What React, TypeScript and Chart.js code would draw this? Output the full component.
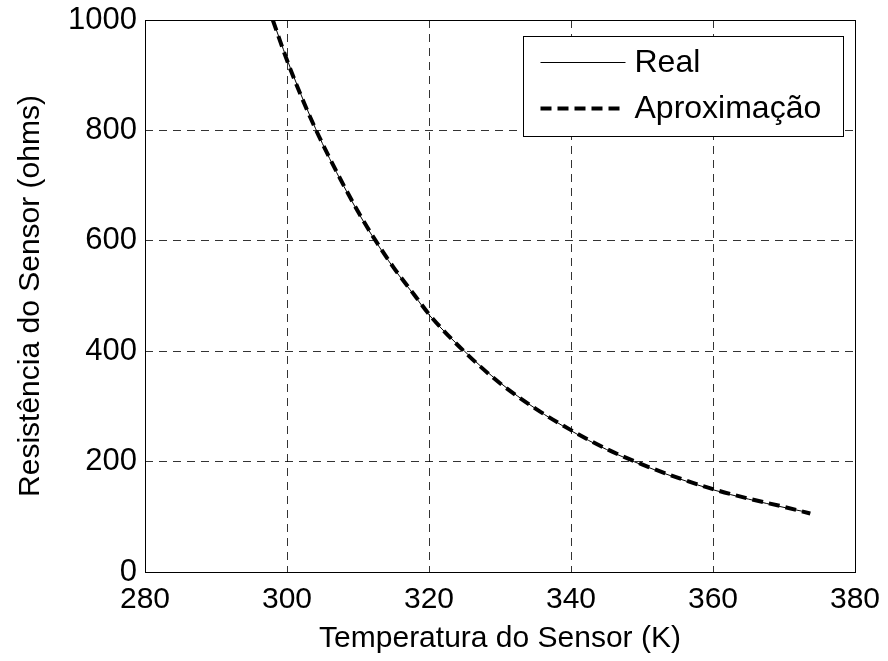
import React, { useEffect, useRef } from "react";
import { Chart, registerables } from "chart.js";

Chart.register(...registerables);

// Temperature (K) and resistance (ohms)
const temperatures = [298, 300, 302, 304, 306, 308, 310, 312, 315, 318, 320, 325, 330, 335, 340, 345, 350, 355, 360, 365, 370, 373.7];
const realValues = [1000, 929, 864, 804, 749, 699, 652, 609, 551, 500, 466, 400, 343, 296, 256, 222, 194, 170, 149, 132, 117, 107];
const approxValues = [1000, 927, 862, 803, 750, 700, 653, 610, 552, 501, 467, 399, 342, 296, 257, 223, 195, 171, 150, 133, 118, 106];

const seriesLabels = ["Real", "Aproximação"];
const xTitle = "Temperatura do Sensor (K)";
const yTitle = "Resistência do Sensor (ohms)";
const xTicks = [280, 300, 320, 340, 360, 380];
const yTicks = [0, 200, 400, 600, 800, 1000];

const FONT = "'Liberation Sans', Arial, Helvetica, sans-serif";

const framePlugin = {
  id: "frame",
  afterDatasetsDraw(chart: any) {
    const { ctx, chartArea } = chart;
    ctx.save();
    ctx.strokeStyle = "#000";
    ctx.lineWidth = 1;
    ctx.setLineDash([]);
    ctx.strokeRect(
      Math.round(chartArea.left) + 0.5,
      Math.round(chartArea.top) + 0.5,
      Math.round(chartArea.right - chartArea.left),
      Math.round(chartArea.bottom - chartArea.top)
    );
    ctx.restore();
  },
};

const legendPlugin = {
  id: "boxLegend",
  afterDraw(chart: any) {
    const { ctx, chartArea } = chart;
    const w = 320;
    const h = 100;
    const left = Math.round(chartArea.right - 12 - w) + 0.5;
    const top = Math.round(chartArea.top + 16) + 0.5;
    ctx.save();
    ctx.fillStyle = "#fff";
    ctx.fillRect(left, top, w, h);
    ctx.strokeStyle = "#000";
    ctx.lineWidth = 1;
    ctx.setLineDash([]);
    ctx.strokeRect(left, top, w, h);
    const rows = [top + 26, top + 72];
    chart.data.datasets.forEach((ds: any, i: number) => {
      const y = rows[i];
      ctx.beginPath();
      ctx.strokeStyle = ds.borderColor;
      ctx.lineWidth = ds.borderWidth;
      ctx.setLineDash(ds.borderDash || []);
      ctx.moveTo(left + 17, y);
      ctx.lineTo(left + 102, y);
      ctx.stroke();
      ctx.setLineDash([]);
      ctx.fillStyle = "#000";
      ctx.font = `32px ${FONT}`;
      ctx.textBaseline = "middle";
      ctx.textAlign = "left";
      ctx.fillText(ds.label, left + 111, y + 1);
    });
    ctx.restore();
  },
};

export default function App() {
  const canvasRef = useRef<HTMLCanvasElement | null>(null);

  useEffect(() => {
    document.body.style.margin = "0";
    const canvas = canvasRef.current;
    if (!canvas) return;
    const gridOpts = {
      color: "rgba(0,0,0,0.8)",
      lineWidth: 1,
      drawTicks: false,
    };
    const chart = new Chart(canvas, {
      type: "line",
      data: {
        datasets: [
          {
            label: seriesLabels[0],
            data: temperatures.map((t, i) => ({ x: t, y: realValues[i] })),
            borderColor: "#000",
            borderWidth: 1,
            pointRadius: 0,
            cubicInterpolationMode: "monotone",
            fill: false,
            clip: 0,
          },
          {
            label: seriesLabels[1],
            data: temperatures.map((t, i) => ({ x: t, y: approxValues[i] })),
            borderColor: "#000",
            borderWidth: 4,
            borderDash: [11, 6],
            pointRadius: 0,
            cubicInterpolationMode: "monotone",
            fill: false,
            clip: 0,
          },
        ],
      },
      options: {
        responsive: false,
        animation: false,
        events: [],
        layout: { padding: { top: 20, right: 33, left: 0, bottom: 0 } },
        plugins: {
          legend: { display: false },
          tooltip: { enabled: false },
        },
        scales: {
          x: {
            type: "linear",
            min: xTicks[0],
            max: xTicks[xTicks.length - 1],
            afterBuildTicks: (scale: any) => {
              scale.ticks = xTicks.map((v) => ({ value: v }));
            },
            afterFit: (scale: any) => {
              scale.height = 89;
              scale.paddingLeft = 0;
              scale.paddingRight = 0;
            },
            border: { display: true, color: "#000", width: 1 },
            grid: { ...gridOpts, borderDash: [8, 6] } as any,
            ticks: {
              color: "#000",
              padding: 10,
              maxRotation: 0,
              font: { family: FONT, size: 30 },
              callback: (v: any) => String(v),
            },
            title: {
              display: true,
              text: xTitle,
              color: "#000",
              font: { family: FONT, size: 30 },
              padding: { top: 0, bottom: 4 },
            },
          },
          y: {
            type: "linear",
            min: yTicks[0],
            max: yTicks[yTicks.length - 1],
            afterBuildTicks: (scale: any) => {
              scale.ticks = yTicks.map((v) => ({ value: v }));
            },
            afterFit: (scale: any) => {
              scale.width = 145;
              scale.paddingTop = 0;
              scale.paddingBottom = 0;
            },
            border: { display: true, color: "#000", width: 1 },
            grid: { ...gridOpts } as any,
            ticks: {
              color: "#000",
              padding: 8,
              font: { family: FONT, size: 31 },
              callback: (v: any) => String(v),
            },
            title: {
              display: true,
              text: yTitle,
              color: "#000",
              font: { family: FONT, size: 30 },
              padding: { top: 13, bottom: 0 },
            },
          },
        },
      },
      plugins: [framePlugin, legendPlugin],
    } as any);
    // dashed grid lines
    (chart.options.scales as any).x.border.dash = [8, 6];
    (chart.options.scales as any).y.border.dash = [8, 6];
    (chart.options.scales as any).x.border.display = false;
    (chart.options.scales as any).y.border.display = false;
    chart.update();
    return () => chart.destroy();
  }, []);

  return (
    <div style={{ width: 888, height: 661, background: "#fff" }}>
      <canvas ref={canvasRef} width={888} height={661} />
    </div>
  );
}
